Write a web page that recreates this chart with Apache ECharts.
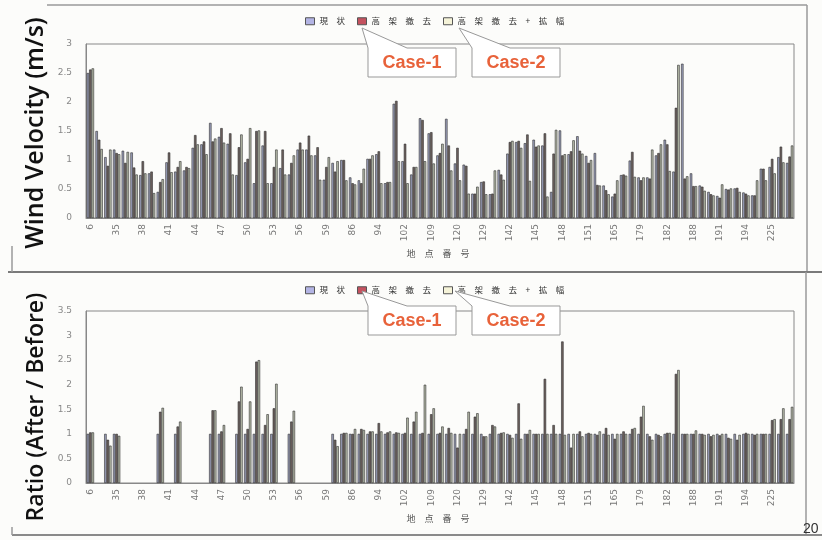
<!DOCTYPE html>
<html>
<head>
<meta charset="utf-8">
<script src="https://cdn.jsdelivr.net/npm/echarts@6/dist/echarts.min.js"></script>
<style>
  html, body { margin: 0; padding: 0; background: #fcfcfa; }
  #chart { width: 822px; height: 540px; }
</style>
</head>
<body>
<div id="chart"></div>
<script>
// station numbers (every 3rd one is labelled on the axis)
var categories = [6, 33, 34, 35, 36, 37, 38, 39, 40, 41, 42, 43, 44, 45, 46, 47, 48, 49,
  50, 51, 52, 53, 54, 55, 56, 57, 58, 59, 60, 85, 86, 89, 92, 94, 97, 100, 102, 105, 107,
  109, 113, 117, 120, 123, 126, 129, 134, 138, 142, 143, 144, 145, 146, 147, 148, 149, 150,
  151, 156, 160, 165, 170, 175, 179, 180, 181, 182, 184, 186, 188, 189, 190, 191, 192, 193,
  194, 200, 212, 225, 226, 227].map(String);

var series_names = ['現\u3000状', '高\u3000架\u3000撤\u3000去', '高\u3000架\u3000撤\u3000去\u3000+\u3000拡\u3000幅'];

// wind velocity (m/s)
var vel_now = [2.50, 1.50, 1.05, 1.18, 1.16, 1.13, 0.74, 0.77, 0.45, 0.96, 0.80, 0.82, 1.21, 1.27,
  1.64, 1.40, 1.28, 0.74, 0.96, 0.60, 1.25, 0.60, 0.86, 0.75, 1.18, 1.18, 1.08, 0.66, 0.95, 1.00,
  0.70, 0.65, 1.02, 1.10, 0.60, 1.97, 0.98, 0.75, 1.72, 1.46, 1.08, 1.71, 0.94, 0.92, 0.42, 0.62,
  0.41, 0.83, 1.11, 1.31, 1.29, 1.35, 1.25, 0.45, 1.51, 1.10, 1.41, 1.07, 1.12, 0.56, 0.37, 0.74,
  0.99, 0.70, 0.70, 1.08, 1.35, 0.80, 2.66, 0.77, 0.56, 0.45, 0.38, 0.50, 0.51, 0.44, 0.39, 0.85,
  0.88, 1.05, 0.95];
var vel_removal = [2.56, 1.35, 0.90, 1.12, 0.95, 0.87, 0.98, 0.80, 0.62, 1.13, 0.88, 0.88, 1.43,
  1.32, 1.32, 1.55, 1.46, 1.22, 1.02, 1.50, 1.50, 0.88, 1.18, 0.95, 1.30, 1.42, 1.22, 0.88, 0.80,
  1.00, 0.60, 0.60, 1.02, 1.15, 0.62, 2.02, 1.28, 0.88, 1.69, 1.48, 1.12, 1.25, 1.21, 0.90, 0.42,
  0.63, 0.42, 0.75, 1.31, 1.33, 1.44, 1.23, 1.46, 1.11, 1.08, 1.15, 1.16, 0.95, 0.57, 0.48, 0.42,
  0.75, 1.14, 0.65, 0.68, 1.12, 1.27, 1.90, 0.68, 0.55, 0.54, 0.41, 0.35, 0.49, 0.52, 0.42, 0.39,
  0.85, 1.02, 1.23, 1.06];
var vel_widen = [2.58, 1.19, 1.18, 1.10, 1.14, 0.75, 0.77, 0.43, 0.67, 0.79, 0.98, 0.86, 1.27,
  1.10, 1.37, 1.30, 0.75, 1.44, 1.55, 1.51, 0.60, 1.18, 0.75, 1.08, 1.18, 1.08, 0.66, 1.05, 0.98,
  0.65, 0.58, 0.85, 1.08, 0.60, 0.62, 0.98, 0.60, 0.88, 0.98, 0.94, 1.28, 0.82, 0.65, 0.42, 0.54,
  0.41, 0.82, 0.66, 1.33, 1.21, 0.64, 1.25, 0.37, 1.52, 1.10, 1.34, 1.11, 1.00, 0.56, 0.41, 0.65,
  0.73, 0.71, 0.70, 1.18, 1.27, 0.81, 2.64, 0.72, 0.55, 0.47, 0.39, 0.58, 0.51, 0.45, 0.39, 0.65,
  0.65, 0.77, 0.96, 1.25];

// ratio after / before (null = no data)
var ratio_now = [1, null, 1, 1, null, null, null, null, 1, null, 1, null, null, null, 1, 1, null,
  1, 1, 1, 1, 1, null, 1, null, null, null, null, 1, 1, 1, 1, 1, 1, 1, 1, 1, 1, 1, 1, 1, 1, 1, 1,
  1, 1, 1, 1, 1, 1, 1, 1, 1, 1, 1, 1, 1, 1, 1, 1, 1, 1, 1, 1, 1, 1, 1, 1, 1, 1, 1, 1, 1, 1, 1, 1,
  1, 1, 1, 1, 1];
var ratio_removal = [1.03, null, 0.88, 1.00, null, null, null, null, 1.45, null, 1.15, null, null,
  null, 1.48, 1.05, null, 1.66, 1.10, 2.47, 1.18, 1.52, null, 1.25, null, null, null, null, 0.88,
  1.02, 1.00, 1.10, 1.05, 1.22, 1.03, 1.03, 1.02, 1.25, 1.02, 1.40, 1.02, 1.12, 0.72, 1.10, 1.35,
  0.95, 1.18, 1.02, 0.98, 1.62, 1.00, 1.00, 2.12, 1.18, 2.88, 0.72, 1.05, 1.02, 0.98, 1.12, 0.90,
  1.05, 1.10, 1.35, 0.95, 0.98, 1.02, 2.22, 1.00, 1.00, 1.00, 0.95, 0.97, 0.92, 0.88, 1.02, 0.98,
  1.00, 1.28, 1.30, 1.30];
var ratio_widen = [1.03, null, 0.76, 0.96, null, null, null, null, 1.53, null, 1.25, null, null,
  null, 1.48, 1.18, null, 1.96, 1.66, 2.50, 1.40, 2.02, null, 1.47, null, null, null, null, 0.75,
  1.02, 1.10, 1.08, 1.05, 1.05, 1.05, 1.02, 1.33, 1.45, 2.00, 1.52, 1.15, 1.02, 1.00, 1.45, 1.42,
  0.95, 1.15, 1.03, 0.92, 0.90, 1.08, 1.00, 1.00, 1.00, 0.98, 1.00, 0.95, 1.00, 1.05, 0.98, 1.00,
  1.00, 1.12, 1.57, 0.88, 0.95, 1.02, 2.30, 1.00, 1.07, 0.98, 0.98, 1.00, 0.90, 0.98, 1.00, 1.00,
  1.00, 1.30, 1.52, 1.55];

var bar_colors = ['#9ca0bc', '#6f625f', '#b8bdab'];
var legend_colors = ['#b3b4e4', '#c4525f', '#f5f3d8'];

var chart_div = echarts.init(document.getElementById('chart'));

function make_legend(top) {
  return {
    top: top,
    left: 300,
    itemWidth: 9,
    itemHeight: 7,
    itemGap: 12,
    selectedMode: false,
    textStyle: { fontSize: 8.5, color: '#333', fontFamily: 'Noto Sans CJK JP' },
    data: series_names.map(function(n, i) {
      return { name: n, icon: 'rect', itemStyle: { color: legend_colors[i], borderColor: '#555', borderWidth: 1 } };
    })
  };
}

function make_bars(grid_idx, values) {
  return values.map(function(v, i) {
    return {
      name: series_names[i],
      type: 'bar',
      xAxisIndex: grid_idx,
      yAxisIndex: grid_idx,
      data: v,
      barGap: '0%',
      barCategoryGap: '16%',
      itemStyle: { color: bar_colors[i], borderColor: '#2e2e2e', borderWidth: 0.6 },
      silent: true
    };
  });
}

function x_axis(grid_idx) {
  return {
    type: 'category',
    gridIndex: grid_idx,
    data: categories,
    axisLine: { lineStyle: { color: '#888' } },
    axisTick: { show: false },
    axisLabel: { interval: 2, rotate: 90, fontSize: 9, color: '#777', margin: 6, fontFamily: 'DejaVu Sans' }
  };
}

function y_axis(grid_idx, max) {
  return {
    type: 'value',
    gridIndex: grid_idx,
    min: 0,
    max: max,
    interval: 0.5,
    splitLine: { show: false },
    axisLine: { show: true, lineStyle: { color: '#888' } },
    axisTick: { show: false },
    axisLabel: { fontSize: 9, color: '#888', margin: 14, fontFamily: 'DejaVu Sans' }
  };
}

function callout(x, y, tipx, tipy, basex, label) {
  return [
    {
      type: 'polygon',
      shape: { points: [[x, y + 29], [x, y], [tipx, tipy], [basex, y], [x + 88, y], [x + 88, y + 29]] },
      style: { fill: '#ffffff', stroke: '#999', lineWidth: 1 },
      z: 100
    },
    {
      type: 'text',
      x: x + 44, y: y + 15,
      style: { text: label, fill: '#e8623a', font: 'bold 18px "Liberation Sans", Arial', textAlign: 'center', textVerticalAlign: 'middle' },
      z: 101
    }
  ];
}

var frame_color = '#9a9a9a';
var graphics = [
  { type: 'line', shape: { x1: 47, y1: 5, x2: 807, y2: 5 }, style: { stroke: frame_color, lineWidth: 1.5 } },
  { type: 'line', shape: { x1: 807, y1: 5, x2: 807, y2: 272 }, style: { stroke: frame_color, lineWidth: 1.5 } },
  { type: 'line', shape: { x1: 8, y1: 272, x2: 822, y2: 272 }, style: { stroke: '#7a7a7a', lineWidth: 2 } },
  { type: 'line', shape: { x1: 12, y1: 246, x2: 12, y2: 272 }, style: { stroke: frame_color, lineWidth: 1.5 } },
  { type: 'line', shape: { x1: 806, y1: 272, x2: 806, y2: 535 }, style: { stroke: frame_color, lineWidth: 1.5 } },
  { type: 'line', shape: { x1: 12, y1: 535, x2: 822, y2: 535 }, style: { stroke: '#8a8a8a', lineWidth: 2 } },
  { type: 'line', shape: { x1: 12, y1: 527, x2: 12, y2: 535 }, style: { stroke: frame_color, lineWidth: 1.5 } },
  {
    type: 'text', x: 36, y: 133, rotation: Math.PI / 2,
    style: { text: 'Wind Velocity (m/s)', fill: '#111', font: '600 25px "Open Sans"', textAlign: 'center', textVerticalAlign: 'middle' }
  },
  {
    type: 'text', x: 36, y: 407, rotation: Math.PI / 2,
    style: { text: 'Ratio (After / Before)', fill: '#111', font: '600 23px "Open Sans"', textAlign: 'center', textVerticalAlign: 'middle' }
  },
  {
    type: 'text', x: 438, y: 254,
    style: { text: '地\u3000点\u3000番\u3000号', fill: '#555', font: '9px "Noto Sans CJK JP"', textAlign: 'center', textVerticalAlign: 'middle' }
  },
  {
    type: 'text', x: 438, y: 519,
    style: { text: '地\u3000点\u3000番\u3000号', fill: '#555', font: '9px "Noto Sans CJK JP"', textAlign: 'center', textVerticalAlign: 'middle' }
  },
  {
    type: 'text', x: 803, y: 529,
    style: { text: '20', fill: '#333', font: '14px "Liberation Sans"', textAlign: 'left', textVerticalAlign: 'middle' }
  }
];
graphics = graphics
  .concat(callout(368, 48, 362, 28, 407, 'Case-1'))
  .concat(callout(472, 48, 459, 28, 510, 'Case-2'))
  .concat(callout(368, 306, 362, 291, 407, 'Case-1'))
  .concat(callout(472, 306, 455, 291, 510, 'Case-2'));

var option = {
  backgroundColor: '#fcfcfa',
  animation: false,
  legend: [make_legend(12), make_legend(281)],
  grid: [
    { left: 86, right: 28, top: 44, height: 174, show: true, borderColor: '#888', borderWidth: 1 },
    { left: 86, right: 28, top: 311, height: 172, show: true, borderColor: '#888', borderWidth: 1 }
  ],
  xAxis: [x_axis(0), x_axis(1)],
  yAxis: [y_axis(0, 3), y_axis(1, 3.5)],
  series: make_bars(0, [vel_now, vel_removal, vel_widen]).concat(make_bars(1, [ratio_now, ratio_removal, ratio_widen])),
  graphic: graphics
};

chart_div.setOption(option, true);
</script>
</body>
</html>
